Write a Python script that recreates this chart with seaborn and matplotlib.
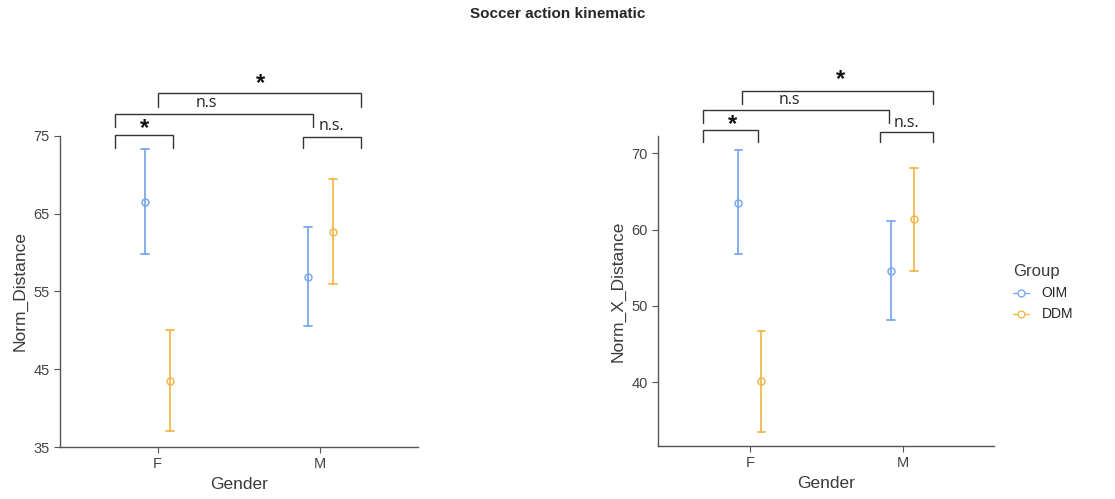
import numpy as np
import pandas as pd
import matplotlib
matplotlib.use("Agg")
import matplotlib.pyplot as plt
import seaborn as sns
from matplotlib.lines import Line2D

# ---- data ----
genders = ["F", "M"]
groups = ["OIM", "DDM"]
# Norm_Distance (left)
left_mean = {"OIM": [66.5, 56.9], "DDM": [43.5, 62.6]}
left_low = {"OIM": [59.8, 50.5], "DDM": [37.0, 56.0]}
left_high = {"OIM": [73.3, 63.3], "DDM": [50.0, 69.5]}
# Norm_X_Distance (right)
right_mean = {"OIM": [63.5, 54.6], "DDM": [40.2, 61.4]}
right_low = {"OIM": [56.8, 48.2], "DDM": [33.5, 54.6]}
right_high = {"OIM": [70.4, 61.1], "DDM": [46.7, 68.1]}

left_yticks = [35, 45, 55, 65, 75]
right_yticks = [40, 50, 60, 70]

# significance brackets: (x_start, x_end, y_top, y_leg_left, y_leg_right, label, label_x, label_y)
left_brackets = [
    (-0.261, 0.094, 75.07, 73.4, 73.4, "*", -0.08, 76.0),
    (0.891, 1.249, 74.9, 73.4, 73.4, "n.s.", 1.07, 76.3),
    (-0.261, 0.957, 77.8, 76.2, 76.2, "n.s", 0.30, 79.2),
    (0.0, 1.252, 80.5, 78.7, 78.7, "*", 0.63, 81.7),
]
right_brackets = [
    (-0.305, 0.054, 73.0, 71.4, 71.4, "*", -0.117, 73.8),
    (0.852, 1.200, 72.8, 71.4, 71.4, "n.s.", 1.024, 74.0),
    (-0.305, 0.909, 75.6, 73.9, 73.9, "n.s", 0.26, 77.0),
    (-0.054, 1.200, 78.2, 76.4, 76.4, "*", 0.59, 79.6),
]

palette = {"OIM": "#7aa9ec", "DDM": "#f0b94c"}


def build_df(mean, low, high):
    rows = []
    for grp in groups:
        for i, g in enumerate(genders):
            for v in (low[grp][i], mean[grp][i], high[grp][i]):
                rows.append({"Gender": g, "Group": grp, "val": v})
    return pd.DataFrame(rows)


sns.set_theme(style="white")
plt.rcParams["font.family"] = ["Liberation Sans", "DejaVu Sans"]

fig = plt.figure(figsize=(11.15, 4.99), dpi=100)
axL = fig.add_axes([0.0538, 0.1042, 0.3211, 0.6233])
axR = fig.add_axes([0.5904, 0.1062, 0.3014, 0.6213])


def draw(ax, df, ylabel, ylim, yticks, brackets):
    sns.pointplot(data=df, x="Gender", y="val", hue="Group", hue_order=groups,
                  order=genders, palette=palette, estimator="median",
                  errorbar=("pi", 100), dodge=0.15, linestyle="none",
                  markers="o", markersize=5, markerfacecolor="white",
                  markeredgewidth=1.1, capsize=0.05, err_kws={"linewidth": 1.3},
                  ax=ax, legend=False)
    ax.set_xlim(-0.6, 1.6)
    ax.set_ylim(*ylim)
    ax.set_yticks(yticks)
    ax.set_xlabel("Gender", fontsize=12.5, color="#3a3a3a")
    ax.set_ylabel(ylabel, fontsize=12.5, color="#3a3a3a")
    for s in ["top", "right"]:
        ax.spines[s].set_visible(False)
    for s in ["left", "bottom"]:
        ax.spines[s].set_color("#555555")
        ax.spines[s].set_linewidth(1.0)
    ax.tick_params(axis="both", which="both", length=4, width=0.8, color="#555555",
                   labelsize=10.5, labelcolor="#444444", left=True, bottom=True)
    for (x0, x1, yt, yl, yr, lab, lx, ly) in brackets:
        ax.plot([x0, x0, x1, x1], [yl, yt, yt, yr], color="#333333", lw=1.0,
                clip_on=False, solid_joinstyle="miter")
        if lab == "*":
            ax.text(lx, ly, lab, ha="center", va="center", fontsize=17,
                    fontweight="bold", color="#111111", clip_on=False)
        else:
            ax.text(lx, ly, lab, ha="center", va="center", fontsize=11.5,
                    color="#222222", clip_on=False, family=["Open Sans", "DejaVu Sans"])


draw(axL, build_df(left_mean, left_low, left_high), "Norm_Distance", (35, 75),
     left_yticks, left_brackets)
draw(axR, build_df(right_mean, right_low, right_high), "Norm_X_Distance", (31.65, 72.25),
     right_yticks, right_brackets)

handles = [Line2D([0], [0], color=palette[g], marker="o", markerfacecolor="white",
                  markersize=5, lw=1.0) for g in groups]
leg = fig.legend(handles, groups, title="Group", loc="upper left",
                 bbox_to_anchor=(0.897, 0.495), frameon=False, fontsize=10,
                 title_fontsize=12, handlelength=1.2, labelspacing=0.5,
                 handletextpad=0.9)
leg._legend_box.align = "left"
leg.get_title().set_color("#3a3a3a")

fig.suptitle("Soccer action kinematic", fontsize=11, fontweight="bold", y=0.985)

fig.savefig("out.png", dpi=100)
